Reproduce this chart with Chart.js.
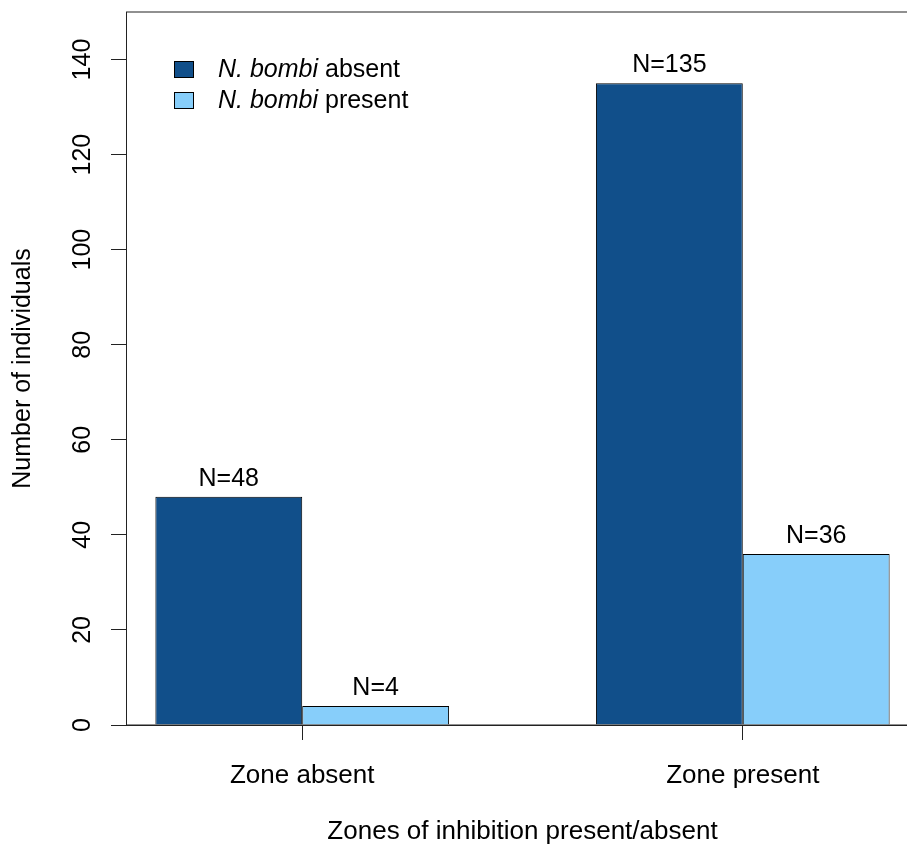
<!DOCTYPE html>
<html>
<head>
<meta charset="utf-8">
<script src="https://cdn.jsdelivr.net/npm/chart.js@4"></script>
<style>
  html, body { margin: 0; padding: 0; background: #fff; overflow: hidden; }
  #wrap { width: 930px; height: 853px; }
</style>
</head>
<body>
<div id="wrap"><canvas id="zoneChart" width="930" height="853"></canvas></div>
<script>
// categories and counts
const categories = ['Zone absent', 'Zone present'];
const groupPositions = [2, 5];          // barplot group midpoints
const nbombiAbsent = [48, 135];
const nbombiPresent = [4, 36];
const yTickValues = [0, 20, 40, 60, 80, 100, 120, 140];
const seriesNames = ['absent', 'present'];

const DARK = '#114f8a';
const LIGHT = '#87cefa';
const FONT = '"Liberation Sans", Arial, Helvetica, sans-serif';

Chart.defaults.font.family = FONT;
Chart.defaults.font.size = 25;
Chart.defaults.color = '#000';

// frame around the plot region (right side runs past the window, like the original)
const framePlugin = {
    id: 'frame',
    afterDraw(chart) {
        const { ctx, chartArea } = chart;
        ctx.save();
        ctx.strokeStyle = '#222';
        ctx.lineWidth = 1;
        ctx.strokeRect(chartArea.left + 0.5, chartArea.top, chartArea.right - chartArea.left, chartArea.bottom - chartArea.top);
        ctx.restore();
    }
};

// "N=.." above each bar
const countLabels = {
    id: 'countLabels',
    afterDatasetsDraw(chart) {
        const { ctx } = chart;
        ctx.save();
        ctx.font = `25px ${FONT}`;
        ctx.fillStyle = '#000';
        ctx.textAlign = 'center';
        ctx.textBaseline = 'alphabetic';
        chart.data.datasets.forEach((ds, di) => {
            chart.getDatasetMeta(di).data.forEach((bar, i) => {
                ctx.fillText('N=' + ds.data[i].y, bar.x, bar.y - 11);
            });
        });
        ctx.restore();
    }
};

// R-style legend: italic species name + plain suffix
const rLegend = {
    id: 'rLegend',
    afterDraw(chart) {
        const { ctx, chartArea } = chart;
        const x0 = chartArea.left + 48;
        let y0 = chartArea.top + 49;
        ctx.save();
        chart.data.datasets.forEach((ds, i) => {
            ctx.fillStyle = ds.backgroundColor;
            ctx.fillRect(x0, y0, 20, 17);
            ctx.strokeStyle = '#000';
            ctx.lineWidth = 1;
            ctx.strokeRect(x0 + 0.5, y0 + 0.5, 19, 16);

            ctx.fillStyle = '#000';
            ctx.textBaseline = 'middle';
            ctx.textAlign = 'left';
            ctx.font = `italic 25px ${FONT}`;
            const sp = 'N. bombi';
            ctx.fillText(sp, x0 + 44, y0 + 9);
            const w = ctx.measureText(sp).width;
            ctx.font = `25px ${FONT}`;
            ctx.fillText(' ' + seriesNames[i], x0 + 44 + w, y0 + 9);
            y0 += 31;
        });
        ctx.restore();
    }
};

const ctx = document.getElementById('zoneChart').getContext('2d');
new Chart(ctx, {
    type: 'bar',
    data: {
        datasets: [
            {
                label: 'N. bombi absent',
                data: groupPositions.map((x, i) => ({ x: x, y: nbombiAbsent[i] })),
                backgroundColor: DARK,
                borderColor: '#000',
                borderWidth: 1,
                categoryPercentage: 2 / 3,
                barPercentage: 1,
            },
            {
                label: 'N. bombi present',
                data: groupPositions.map((x, i) => ({ x: x, y: nbombiPresent[i] })),
                backgroundColor: LIGHT,
                borderColor: '#000',
                borderWidth: 1,
                categoryPercentage: 2 / 3,
                barPercentage: 1,
            }
        ]
    },
    options: {
        responsive: false,
        animation: false,
        layout: { padding: { top: 12, right: 11, left: 0, bottom: 0 } },
        plugins: {
            legend: { display: false },
            tooltip: { enabled: false },
        },
        scales: {
            x: {
                type: 'linear',
                min: 0.8,
                max: 6.2,
                offset: false,
                afterBuildTicks: (scale) => {
                    scale.ticks = groupPositions.map(v => ({ value: v }));
                },
                afterFit: (scale) => {
                    scale.height = 128;
                    scale.paddingLeft = 0;
                    scale.paddingRight = 0;
                },
                grid: {
                    offset: false,
                    drawOnChartArea: false,
                    drawTicks: true,
                    tickLength: 15,
                    color: '#222',
                },
                border: { display: true, color: '#222' },
                ticks: {
                    padding: 20,
                    maxRotation: 0,
                    autoSkip: false,
                    font: { size: 26 },
                    callback: (value) => categories[groupPositions.indexOf(value)],
                },
                title: {
                    display: true,
                    text: 'Zones of inhibition present/absent',
                    font: { size: 26 },
                    padding: { top: 0, bottom: 6 },
                },
            },
            y: {
                min: 0,
                max: 150,
                afterBuildTicks: (scale) => {
                    scale.ticks = yTickValues.map(v => ({ value: v }));
                },
                afterFit: (scale) => {
                    scale.width = 126;
                    scale.paddingTop = 0;
                    scale.paddingBottom = 0;
                },
                grid: {
                    drawOnChartArea: false,
                    drawTicks: true,
                    tickLength: 15,
                    color: '#222',
                },
                border: { display: true, color: '#222' },
                ticks: {
                    minRotation: 90,
                    maxRotation: 90,
                    crossAlign: 'center',
                    padding: 7,
                    autoSkip: false,
                },
                title: {
                    display: true,
                    text: 'Number of individuals',
                    padding: { top: 8, bottom: 0 },
                },
            }
        }
    },
    plugins: [framePlugin, countLabels, rLegend]
});
</script>
</body>
</html>
